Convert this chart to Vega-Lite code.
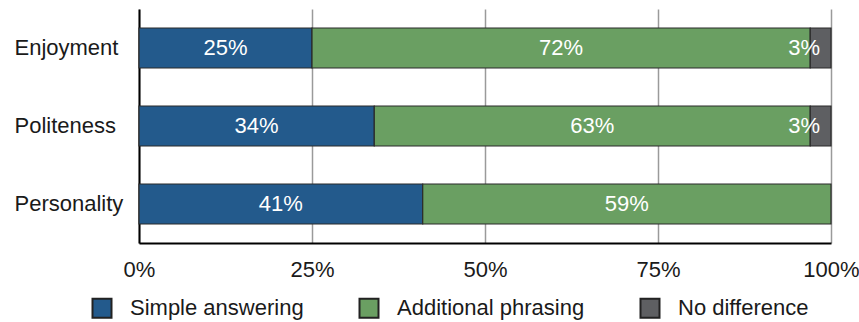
{
  "$schema": "https://vega.github.io/schema/vega-lite/v6.json",
  "width": 692,
  "height": 234,
  "autosize": {"type": "none"},
  "padding": {"left": 139, "top": 9, "right": 28, "bottom": 79},
  "background": "white",
  "config": {
    "view": {"stroke": null},
    "font": "Liberation Sans",
    "axis": {"labelFont": "Liberation Sans", "labelFontSize": 22, "labelColor": "#1a1a1a"},
    "legend": {"labelFont": "Liberation Sans", "labelFontSize": 22, "labelColor": "#1a1a1a", "labelLimit": 0}
  },
  "data": {
    "values": [
      {"category": "Enjoyment", "response": "Simple answering", "order": 1, "value": 25},
      {"category": "Enjoyment", "response": "Additional phrasing", "order": 2, "value": 72},
      {"category": "Enjoyment", "response": "No difference", "order": 3, "value": 3},
      {"category": "Politeness", "response": "Simple answering", "order": 1, "value": 34},
      {"category": "Politeness", "response": "Additional phrasing", "order": 2, "value": 63},
      {"category": "Politeness", "response": "No difference", "order": 3, "value": 3},
      {"category": "Personality", "response": "Simple answering", "order": 1, "value": 41},
      {"category": "Personality", "response": "Additional phrasing", "order": 2, "value": 59}
    ]
  },
  "transform": [
    {"stack": "value", "groupby": ["category"], "sort": [{"field": "order", "order": "ascending"}], "as": ["x0", "x1"]},
    {"calculate": "(datum.x0 + datum.x1) / 2", "as": "xmid"},
    {"calculate": "datum.value + '%'", "as": "label"}
  ],
  "encoding": {
    "y": {
      "field": "category",
      "type": "nominal",
      "sort": ["Enjoyment", "Politeness", "Personality"],
      "scale": {"paddingInner": 0.487, "paddingOuter": 0.2435},
      "axis": {
        "title": null,
        "ticks": false,
        "domain": true,
        "domainColor": "#000000",
        "domainWidth": 2,
        "labelAlign": "left",
        "labelPadding": 125,
        "grid": false
      }
    }
  },
  "layer": [
    {
      "mark": {"type": "bar", "stroke": "#2a2a2a", "strokeWidth": 1.2},
      "encoding": {
        "x": {
          "field": "x0",
          "type": "quantitative",
          "scale": {"domain": [0, 100], "nice": false},
          "axis": {
            "title": null,
            "values": [0, 25, 50, 75, 100],
            "labelExpr": "datum.value + '%'",
            "labelFlush": false,
            "ticks": false,
            "labelPadding": 16,
            "domain": true,
            "domainColor": "#000000",
            "domainWidth": 2,
            "grid": true,
            "gridColor": "#9a9a9a",
            "gridWidth": 1.5
          }
        },
        "x2": {"field": "x1"},
        "color": {
          "field": "response",
          "type": "nominal",
          "sort": ["Simple answering", "Additional phrasing", "No difference"],
          "scale": {
            "domain": ["Simple answering", "Additional phrasing", "No difference"],
            "range": ["#235a8c", "#6a9f62", "#5e5f62"]
          },
          "legend": {
            "title": null,
            "orient": "none",
            "direction": "horizontal",
            "legendX": -48,
            "legendY": 288,
            "symbolType": "square",
            "symbolSize": 361,
            "symbolStrokeColor": "#222222",
            "symbolStrokeWidth": 2,
            "symbolOpacity": 1,
            "labelOffset": 17,
            "labelLimit": 0,
            "columnPadding": 51
          }
        }
      }
    },
    {
      "transform": [{"filter": "datum.value >= 10"}],
      "mark": {"type": "text", "color": "white", "fontSize": 22, "align": "center", "baseline": "middle", "font": "Liberation Sans"},
      "encoding": {
        "x": {"field": "xmid", "type": "quantitative"},
        "text": {"field": "label"}
      }
    },
    {
      "transform": [{"filter": "datum.value < 10"}],
      "mark": {"type": "text", "color": "white", "fontSize": 22, "align": "right", "baseline": "middle", "dx": -11, "font": "Liberation Sans"},
      "encoding": {
        "x": {"field": "x1", "type": "quantitative"},
        "text": {"field": "label"}
      }
    }
  ]
}
